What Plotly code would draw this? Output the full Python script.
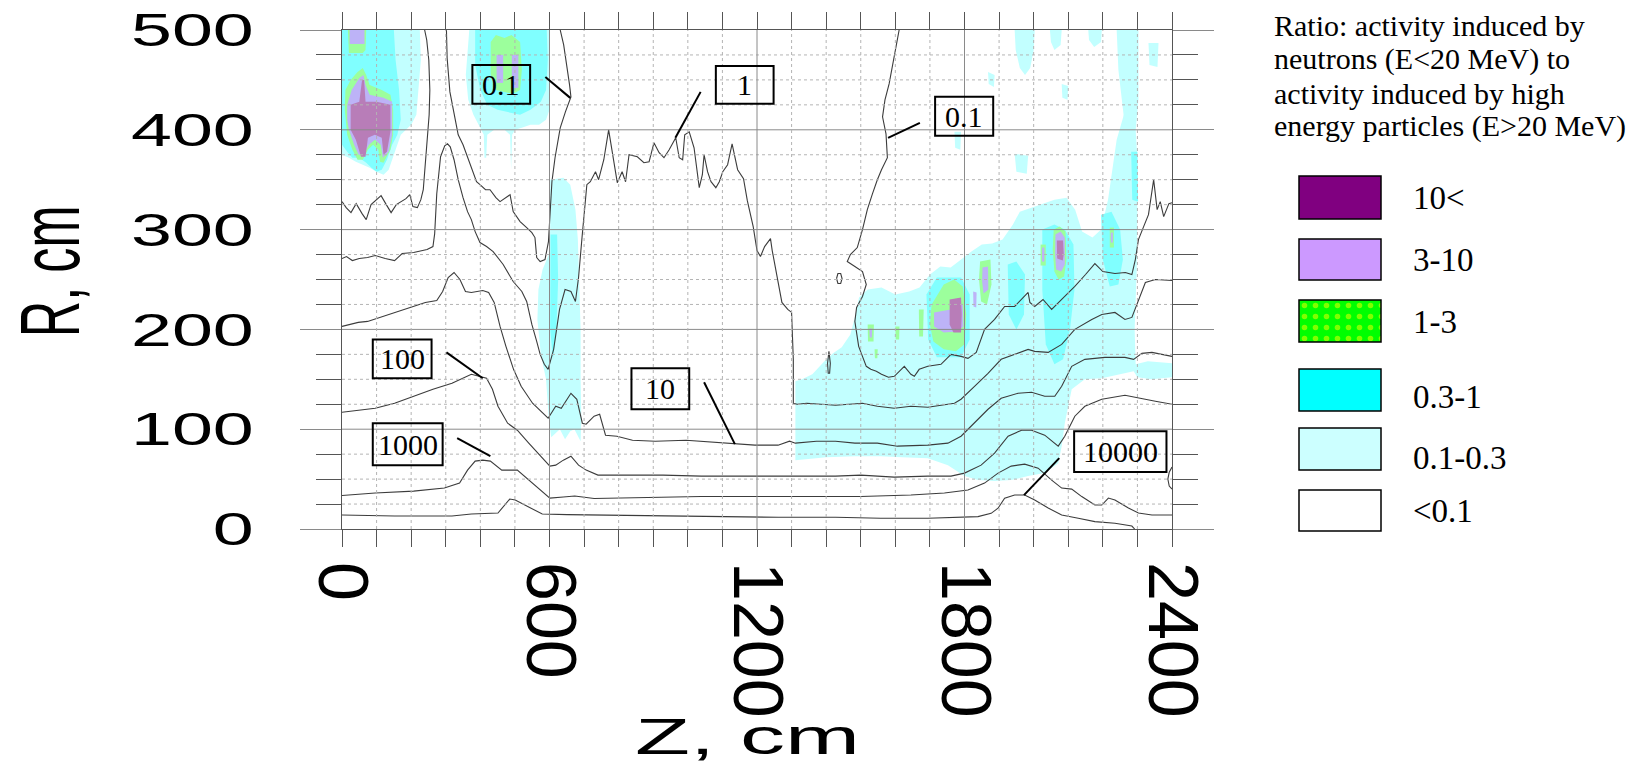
import plotly.graph_objects as go

W, H = 1630, 769
PL, PR, PT, PB = 342, 1172, 30, 529

# ---------------- data: contour lines (Z, R in cm) ----------------
c01_left_z = [0, 12, 26, 41, 58, 70, 84, 100, 113, 128, 142, 157, 171, 185, 196, 205, 218, 228, 235, 240, 246, 252, 254, 251, 245, 239]
c01_left_r = [328, 322, 317, 326, 316, 310, 325, 330, 334, 325, 317, 325, 328, 331, 335, 323, 322, 330, 340, 360, 385, 415, 440, 470, 490, 500]

c01_mid_z = [302, 304, 312, 326, 336, 350, 370, 389, 399, 415, 428, 445, 457, 476, 486, 495, 515, 534, 549, 558, 563, 573, 587, 597, 602, 607, 616, 631, 646, 662, 658, 650, 641, 631]
c01_mid_r = [500, 472, 438, 412, 395, 385, 365, 348, 345, 340, 340, 332, 328, 333, 335, 318, 308, 302, 297, 292, 272, 268, 270, 288, 318, 348, 372, 402, 418, 433, 445, 465, 485, 500]

c01_right_z = [1611, 1600, 1592, 1582, 1570, 1563, 1573, 1577, 1560, 1548, 1534, 1519, 1505, 1490, 1470, 1461, 1483, 1505, 1516, 1505, 1488, 1483, 1494, 1516, 1529, 1545, 1560, 1580, 1597, 1626, 1645, 1655, 1669, 1694, 1732, 1761, 1790, 1810, 1834, 1858, 1887, 1916, 1945, 1974, 1984, 1989, 2003, 2027, 2052, 2081, 2119, 2150, 2177, 2200, 2235, 2265, 2284, 2294, 2303, 2318, 2332, 2347, 2357, 2366, 2376, 2391, 2400]
c01_right_r = [500, 480, 463, 446, 430, 413, 396, 372, 360, 350, 336, 320, 300, 282, 275, 268, 263, 258, 245, 233, 222, 208, 183, 163, 160, 158, 155, 152, 153, 163, 155, 153, 160, 163, 165, 175, 173, 171, 177, 200, 210, 223, 223, 233, 237, 227, 223, 230, 220, 230, 243, 255, 266, 258, 256, 257, 255, 270, 290, 303, 315, 350, 320, 328, 313, 326, 327]

c1_z = [0, 13, 30, 50, 74, 96, 125, 152, 174, 207, 246, 263, 268, 274, 285, 297, 305, 313, 324, 336, 350, 363, 374, 385, 399, 418, 437, 466, 495, 520, 534, 549, 563, 573, 585, 596, 612, 629, 645, 662, 675, 684, 694, 708, 718, 733, 742, 757, 771, 781, 796, 810, 820, 830, 854, 873, 888, 902, 917, 931, 946, 965, 975, 985, 991, 1004, 1018, 1033, 1042, 1047, 1057, 1067, 1081, 1091, 1101, 1115, 1128, 1144, 1161, 1172, 1189, 1200, 1210, 1222, 1239, 1244, 1261, 1272, 1289, 1300, 1305, 1305, 1316, 1344, 1427, 1505, 1548, 1597, 1645, 1694, 1771, 1790, 1829, 1868, 1906, 1945, 1984, 2003, 2042, 2081, 2119, 2168, 2197, 2235, 2264, 2284, 2303, 2323, 2352, 2391, 2400]
c1_r = [271, 273, 269, 271, 272, 274, 271, 269, 276, 277, 280, 283, 296, 336, 373, 384, 386, 383, 370, 350, 332, 318, 310, 298, 287, 283, 278, 265, 248, 238, 228, 205, 188, 175, 165, 160, 180, 220, 240, 238, 228, 252, 292, 345, 348, 358, 350, 370, 400, 378, 347, 358, 348, 375, 373, 367, 368, 387, 377, 372, 380, 392, 372, 370, 395, 398, 382, 342, 355, 375, 358, 348, 342, 348, 358, 365, 386, 360, 351, 329, 303, 279, 273, 283, 291, 279, 249, 227, 220, 217, 170, 126, 125, 126, 124, 126, 123, 121, 123, 122, 126, 130, 143, 156, 170, 175, 180, 178, 177, 185, 200, 210, 215, 217, 210, 212, 230, 247, 250, 249, 249]

c10_z = [0, 24, 47, 74, 108, 152, 196, 241, 274, 291, 307, 324, 341, 357, 374, 407, 424, 440, 457, 474, 496, 518, 551, 596, 618, 634, 662, 679, 695, 706, 729, 745, 762, 795, 840, 906, 995, 1039, 1095, 1150, 1194, 1261, 1294, 1311, 1372, 1427, 1483, 1548, 1606, 1694, 1752, 1790, 1829, 1868, 1906, 1955, 1994, 2032, 2061, 2081, 2110, 2148, 2206, 2264, 2289, 2313, 2342, 2371, 2400]
c10_r = [203, 205, 207, 208, 212, 217, 222, 227, 229, 238, 252, 257, 250, 238, 237, 239, 237, 227, 203, 183, 160, 143, 126, 111, 123, 121, 136, 130, 106, 105, 113, 115, 94, 93, 89, 88, 89, 88, 86, 85, 84, 84, 88, 86, 88, 88, 86, 86, 83, 84, 86, 93, 106, 120, 131, 136, 137, 133, 133, 143, 163, 170, 172, 172, 170, 176, 177, 175, 173]

c100_z = [0, 41, 96, 152, 207, 263, 318, 374, 396, 418, 435, 451, 479, 507, 540, 573, 601, 618, 640, 662, 684, 706, 740, 817, 928, 1039, 1205, 1316, 1427, 1500, 1597, 1694, 1761, 1800, 1848, 1887, 1926, 1965, 1994, 2032, 2071, 2090, 2119, 2148, 2197, 2264, 2303, 2352, 2400]
c100_r = [117, 119, 121, 126, 133, 140, 146, 155, 153, 151, 140, 123, 106, 99, 86, 73, 63, 64, 69, 73, 64, 59, 54, 54, 54, 53, 53, 53, 53, 54, 52, 53, 53, 56, 64, 76, 93, 99, 99, 94, 83, 93, 113, 123, 130, 134, 131, 128, 125]

c1000_z = [0, 96, 207, 296, 340, 363, 385, 407, 429, 462, 507, 540, 573, 601, 640, 673, 729, 817, 928, 1039, 1205, 1372, 1500, 1645, 1742, 1810, 1858, 1897, 1935, 1974, 2013, 2052, 2081, 2110, 2139, 2177, 2197, 2216, 2235, 2274, 2303, 2342, 2400]
c1000_r = [33.5, 36, 38, 41, 46, 59, 68, 69, 68, 59, 59, 49, 39, 31, 32, 33, 30.5, 31, 32, 32.5, 32.5, 32.5, 32.5, 34, 36, 39, 46, 56, 63, 65, 61, 49, 41, 40, 32.5, 24, 24, 31, 29, 21, 16, 14, 14]

c10000_z = [0, 152, 318, 374, 451, 485, 501, 540, 579, 651, 817, 1039, 1261, 1427, 1558, 1694, 1839, 1877, 1897, 1916, 1945, 1974, 2003, 2042, 2081, 2129, 2177, 2235, 2284, 2292]
c10000_r = [14, 13, 13, 15, 16, 30, 29, 22.4, 15, 14.4, 13.7, 12.4, 11.7, 11.7, 10.7, 10.7, 12.4, 15.7, 20.8, 30.8, 34, 34, 29, 21, 14, 10.7, 7.4, 5.7, 3, 0]

loop_a_z = [1430, 1434, 1442, 1446, 1442, 1434, 1430]
loop_a_r = [251, 256, 256, 251, 246, 246, 251]
loop_b_z = [1404, 1408, 1412, 1410, 1406, 1404]
loop_b_r = [166, 178, 166, 156, 156, 166]
loop_c_z = [2400, 2392, 2388, 2392, 2400]
loop_c_r = [62, 57, 50, 43, 40]

# ---------------- data: ratio regions (Z, R polygons) ----------------
tl_lc_z = [0, 225, 228, 222, 215, 200, 185, 170, 150, 135, 120, 100, 80, 60, 40, 20, 0]
tl_lc_r = [500, 500, 470, 440, 415, 405, 400, 395, 375, 360, 355, 358, 362, 365, 368, 372, 375]
tl_cy_z = [0, 150, 155, 165, 170, 160, 145, 130, 115, 100, 85, 70, 50, 30, 15, 0]
tl_cy_r = [500, 500, 470, 440, 410, 395, 385, 370, 360, 358, 362, 367, 372, 372, 378, 385]
tl_gr1_z = [17, 70, 68, 60, 20]
tl_gr1_r = [500, 500, 480, 477, 477]
tl_gr2_z = [10, 25, 45, 60, 70, 80, 115, 140, 148, 148, 140, 120, 110, 105, 90, 75, 60, 45, 30, 15, 8]
tl_gr2_r = [440, 450, 458, 462, 455, 445, 440, 435, 420, 395, 380, 367, 368, 380, 385, 380, 370, 370, 380, 395, 420]
tl_lv1_z = [22, 65, 65, 22]
tl_lv1_r = [500, 500, 486, 486]
tl_lv2_z = [15, 28, 50, 62, 68, 80, 120, 145, 145, 135, 118, 112, 95, 78, 62, 48, 35, 20, 15]
tl_lv2_r = [425, 440, 452, 455, 445, 435, 432, 428, 395, 378, 372, 385, 390, 385, 375, 375, 385, 400, 410]
tl_pu_z = [25, 50, 58, 64, 68, 100, 140, 140, 130, 120, 115, 95, 75, 68, 55, 40, 25]
tl_pu_r = [425, 428, 450, 450, 428, 428, 425, 398, 378, 375, 392, 395, 392, 373, 373, 390, 400]

tm_lc_z = [368, 600, 600, 590, 570, 545, 520, 500, 492, 489, 486, 470, 440, 420, 417, 412, 410, 395, 380, 365, 358]
tm_lc_r = [500, 500, 420, 410, 405, 405, 402, 400, 395, 360, 395, 400, 400, 395, 372, 372, 395, 405, 415, 430, 455]
tm_cy_z = [385, 592, 595, 590, 575, 545, 515, 480, 450, 420, 400, 385]
tm_cy_r = [500, 500, 470, 440, 428, 420, 415, 418, 420, 425, 440, 465]
tm_gr_z = [430, 445, 470, 490, 515, 520, 515, 495, 470, 445, 430]
tm_gr_r = [488, 495, 492, 495, 488, 460, 440, 436, 438, 440, 455]
tm_lv1_z = [447, 466, 466, 447]
tm_lv1_r = [475, 475, 447, 447]
tm_lv2_z = [491, 510, 510, 491]
tm_lv2_r = [475, 475, 442, 442]

vs_lc_z = [602, 640, 660, 675, 682, 686, 690, 690, 692, 690, 680, 672, 660, 645, 630, 615, 605, 598, 590, 575, 565, 568, 580, 598, 602]
vs_lc_r = [350, 352, 345, 320, 290, 250, 200, 150, 110, 88, 95, 100, 98, 90, 100, 95, 92, 110, 150, 175, 210, 240, 260, 275, 300]
vs_cy_z = [603, 622, 625, 620, 610, 602]
vs_cy_r = [295, 295, 250, 200, 170, 200]

rb_lc_z = [1311, 1400, 1483, 1558, 1620, 1694, 1752, 1800, 1839, 1887, 1935, 1984, 2032, 2071, 2081, 2090, 2110, 2148, 2197, 2255, 2289, 2300, 2340, 2400, 2400, 2330, 2295, 2292, 2298, 2300, 2290, 2265, 2240, 2215, 2195, 2170, 2140, 2120, 2095, 2060, 2020, 1990, 1960, 1940, 1910, 1880, 1850, 1820, 1790, 1760, 1730, 1700, 1670, 1640, 1600, 1560, 1520, 1495, 1485, 1470, 1445, 1420, 1395, 1360, 1330, 1311]
rb_lc_r = [69, 72, 73, 73, 72, 71, 64, 53, 49, 48, 49, 53, 56, 66, 83, 106, 140, 150, 151, 155, 158, 152, 150, 152, 166, 168, 165, 200, 260, 320, 390, 420, 390, 330, 300, 292, 298, 320, 332, 330, 325, 322, 318, 305, 290, 286, 285, 278, 270, 262, 263, 255, 242, 238, 235, 242, 240, 232, 215, 195, 182, 176, 168, 155, 150, 148]
rc_lc_z = [2240, 2303, 2303, 2295, 2300, 2290, 2270, 2265, 2255, 2245]
rc_lc_r = [500, 500, 430, 400, 370, 340, 360, 400, 430, 460]
sp_lc1_z = [1945, 2003, 2000, 1990, 1975, 1960, 1948]
sp_lc1_r = [500, 500, 480, 462, 455, 462, 480]
sp_lc2_z = [2047, 2081, 2078, 2060, 2050]
sp_lc2_r = [500, 500, 485, 480, 488]
sp_lc3_z = [2158, 2197, 2195, 2175, 2160]
sp_lc3_r = [500, 500, 488, 483, 490]
sp_lc4_z = [1868, 1887, 1885, 1870]
sp_lc4_r = [458, 455, 443, 446]
sp_lc5_z = [1771, 1790, 1788, 1773]
sp_lc5_r = [398, 398, 380, 382]
sp_lc6_z = [2081, 2100, 2098, 2083]
sp_lc6_r = [446, 444, 430, 432]
sp_lc7_z = [2332, 2361, 2358, 2335]
sp_lc7_r = [487, 487, 463, 465]
sp_lc8_z = [1945, 1984, 1980, 1950]
sp_lc8_r = [376, 374, 356, 358]

rb_cy1_z = [2025, 2060, 2090, 2115, 2118, 2105, 2085, 2060, 2035, 2025]
rb_cy1_r = [300, 305, 300, 285, 240, 200, 170, 165, 185, 240]
rb_cy2_z = [2195, 2225, 2250, 2258, 2245, 2220, 2200]
rb_cy2_r = [315, 318, 300, 270, 245, 243, 270]
rb_cy3_z = [2282, 2300, 2302, 2285]
rb_cy3_r = [378, 378, 328, 330]
rb_cy4_z = [1925, 1950, 1975, 1972, 1950, 1928]
rb_cy4_r = [265, 268, 255, 215, 200, 215]
rb_cy5_z = [1690, 1720, 1790, 1815, 1815, 1790, 1720, 1695]
rb_cy5_r = [235, 252, 252, 235, 190, 172, 172, 190]

sp1_gr_z = [1705, 1740, 1770, 1795, 1805, 1800, 1775, 1740, 1710, 1700]
sp1_gr_r = [225, 245, 250, 243, 215, 185, 178, 180, 188, 205]
sp1_lv_z = [1712, 1760, 1795, 1797, 1780, 1740, 1712]
sp1_lv_r = [217, 220, 225, 203, 198, 197, 203]
sp1_pu_z = [1757, 1790, 1792, 1790, 1768, 1757]
sp1_pu_r = [230, 232, 215, 197, 197, 205]
sp2_gr_z = [1845, 1875, 1878, 1865, 1848, 1842]
sp2_gr_r = [268, 270, 245, 225, 228, 250]
sp2_lv_z = [1852, 1868, 1869, 1855, 1851]
sp2_lv_r = [262, 263, 240, 236, 248]
sp3_lv_z = [1825, 1835, 1834, 1826]
sp3_lv_r = [238, 237, 222, 223]
sp4_gr_z = [1668, 1682, 1680, 1669]
sp4_gr_r = [220, 220, 193, 193]
sp5_gr_z = [1600, 1612, 1611, 1601]
sp5_gr_r = [203, 203, 190, 190]
sp6_gr_z = [1520, 1538, 1537, 1521]
sp6_gr_r = [205, 205, 188, 188]
sp6_lv_z = [1525, 1533, 1532, 1526]
sp6_lv_r = [201, 201, 192, 192]
sp7_gr_z = [1540, 1549, 1548, 1541]
sp7_gr_r = [180, 180, 171, 171]
sp8_gr_z = [2058, 2075, 2092, 2095, 2088, 2072, 2060, 2055]
sp8_gr_r = [300, 303, 298, 270, 253, 250, 258, 280]
sp8_lv_z = [2063, 2078, 2090, 2090, 2080, 2065, 2062]
sp8_lv_r = [295, 298, 292, 265, 258, 260, 275]
sp8_pu_z = [2067, 2085, 2087, 2084, 2068]
sp8_pu_r = [289, 289, 275, 269, 271]
sp9_gr_z = [2020, 2035, 2035, 2020]
sp9_gr_r = [285, 285, 264, 264]
sp9_lv_z = [2024, 2031, 2031, 2024]
sp9_lv_r = [282, 282, 268, 268]
sp10_gr_z = [2220, 2232, 2232, 2220]
sp10_gr_r = [302, 302, 282, 282]
sp10_lv_z = [2223, 2229, 2229, 2223]
sp10_lv_r = [297, 297, 287, 287]

# ---------------- data: contour labels ----------------
lab_text = ['0.1', '1', '0.1', '100', '1000', '10', '10000']
lab_z0 = [377, 1081, 1715, 89, 89, 837, 2117]
lab_z1 = [544, 1248, 1883, 259, 291, 1004, 2384]
lab_r0 = [426, 426, 394, 151, 64, 120, 57]
lab_r1 = [465, 464, 433, 190, 106, 161, 98]
lead_z0 = [588, 1037, 1671, 302, 333, 1047, 2074]
lead_r0 = [453, 438, 407, 177, 91, 147, 71]
lead_z1 = [660, 964, 1579, 407, 429, 1136, 1972]
lead_r1 = [432, 392, 392, 151, 73, 85, 34]

# ---------------- axes ----------------
z_ticks = [0, 600, 1200, 1800, 2400]
r_ticks = [0, 100, 200, 300, 400, 500]

# ---------------- legend ----------------
legend_title = ['Ratio: activity induced by', 'neutrons (E&lt;20 MeV) to',
                'activity induced by high', 'energy particles (E&gt;20 MeV)']
legend_labels = ['10&lt;', '3-10', '1-3', '0.3-1', '0.1-0.3', '&lt;0.1']
legend_colors = ['#800080', '#CC99FF', '#00FF00', '#00FFFF', '#CCFFFF', '#FFFFFF']

# ---------------- styles ----------------
LC = '#C2FFFF'
CY = '#80FFFF'
GR = '#9CFF9C'
LV = '#BDB3F7'
PU = '#B87DB8'
LINE = '#3c3c3c'

fig = go.Figure()


def add_fill(z, r, color):
    fig.add_trace(go.Scatter(x=z, y=r, mode='lines', fill='toself', fillcolor=color,
                             line=dict(width=0), hoverinfo='skip', showlegend=False))


def add_line(z, r):
    fig.add_trace(go.Scatter(x=z, y=r, mode='lines', line=dict(color=LINE, width=1.1),
                             hoverinfo='skip', showlegend=False))


for z, r in [(tl_lc_z, tl_lc_r), (tm_lc_z, tm_lc_r), (vs_lc_z, vs_lc_r), (rb_lc_z, rb_lc_r),
             (rc_lc_z, rc_lc_r), (sp_lc1_z, sp_lc1_r), (sp_lc2_z, sp_lc2_r), (sp_lc3_z, sp_lc3_r),
             (sp_lc4_z, sp_lc4_r), (sp_lc5_z, sp_lc5_r), (sp_lc6_z, sp_lc6_r), (sp_lc7_z, sp_lc7_r),
             (sp_lc8_z, sp_lc8_r)]:
    add_fill(z, r, LC)
for z, r in [(tl_cy_z, tl_cy_r), (tm_cy_z, tm_cy_r), (vs_cy_z, vs_cy_r), (rb_cy1_z, rb_cy1_r),
             (rb_cy2_z, rb_cy2_r), (rb_cy3_z, rb_cy3_r), (rb_cy4_z, rb_cy4_r), (rb_cy5_z, rb_cy5_r)]:
    add_fill(z, r, CY)
for z, r in [(tl_gr1_z, tl_gr1_r), (tl_gr2_z, tl_gr2_r), (tm_gr_z, tm_gr_r), (sp1_gr_z, sp1_gr_r),
             (sp2_gr_z, sp2_gr_r), (sp4_gr_z, sp4_gr_r), (sp5_gr_z, sp5_gr_r), (sp6_gr_z, sp6_gr_r),
             (sp7_gr_z, sp7_gr_r), (sp8_gr_z, sp8_gr_r), (sp9_gr_z, sp9_gr_r), (sp10_gr_z, sp10_gr_r)]:
    add_fill(z, r, GR)
for z, r in [(tl_lv1_z, tl_lv1_r), (tl_lv2_z, tl_lv2_r), (tm_lv1_z, tm_lv1_r), (tm_lv2_z, tm_lv2_r),
             (sp1_lv_z, sp1_lv_r), (sp2_lv_z, sp2_lv_r), (sp3_lv_z, sp3_lv_r), (sp6_lv_z, sp6_lv_r),
             (sp8_lv_z, sp8_lv_r), (sp9_lv_z, sp9_lv_r), (sp10_lv_z, sp10_lv_r)]:
    add_fill(z, r, LV)
for z, r in [(tl_pu_z, tl_pu_r), (sp1_pu_z, sp1_pu_r), (sp8_pu_z, sp8_pu_r)]:
    add_fill(z, r, PU)

for z, r in [(c01_left_z, c01_left_r), (c01_mid_z, c01_mid_r), (c01_right_z, c01_right_r),
             (c1_z, c1_r), (c10_z, c10_r), (c100_z, c100_r), (c1000_z, c1000_r),
             (c10000_z, c10000_r), (loop_a_z, loop_a_r), (loop_b_z, loop_b_r), (loop_c_z, loop_c_r)]:
    add_line(z, r)

fig.add_trace(go.Scatter(x=[0, 1, 1, 0, 0], y=[0, 0, 1, 1, 0], mode='lines', fill='toself',
                         fillcolor='#00FF00', line=dict(width=0),
                         fillpattern=dict(shape='.', fgcolor='#FFFF00', bgcolor='#00FF00',
                                          size=11, solidity=0.2),
                         xaxis='x2', yaxis='y2', hoverinfo='skip', showlegend=False))

shapes = []
for rv in range(25, 500, 25):
    major = rv % 100 == 0
    shapes.append(dict(type='line', xref='x', yref='y', x0=0, x1=2400, y0=rv, y1=rv, layer='above',
                       line=dict(color='#8a8a8a' if major else '#b4b4b4', width=1,
                                 dash='solid' if major else 'dot')))
for zv in range(100, 2400, 100):
    major = zv % 600 == 0
    shapes.append(dict(type='line', xref='x', yref='y', x0=zv, x1=zv, y0=0, y1=500, layer='above',
                       line=dict(color='#8a8a8a' if major else '#b4b4b4', width=1,
                                 dash='solid' if major else 'dot')))
for i in range(len(lab_text)):
    shapes.append(dict(type='rect', xref='x', yref='y', x0=lab_z0[i], x1=lab_z1[i], y0=lab_r0[i], y1=lab_r1[i],
                       layer='above', line=dict(color='black', width=2), fillcolor='rgba(0,0,0,0)'))
    shapes.append(dict(type='line', xref='x', yref='y', x0=lead_z0[i], x1=lead_z1[i], y0=lead_r0[i], y1=lead_r1[i],
                       layer='above', line=dict(color='black', width=2)))

annotations = []
for i in range(len(lab_text)):
    annotations.append(dict(x=(lab_z0[i] + lab_z1[i]) / 2, y=(lab_r0[i] + lab_r1[i]) / 2, xref='x', yref='y',
                            text=lab_text[i], showarrow=False,
                            font=dict(family='Liberation Serif', size=30, color='black')))


def px(x):
    return x / W


def py(y):
    return 1 - y / H


box_top = [176, 239, 300, 369, 428, 490]
box_bot = [219, 280, 342, 411, 470, 531]
lab_y = [198, 260, 322, 397, 458, 511]
for i, col in enumerate(legend_colors):
    shapes.append(dict(type='rect', xref='paper', yref='paper', x0=px(1299), x1=px(1381),
                       y0=py(box_bot[i]), y1=py(box_top[i]), line=dict(color='black', width=1.5),
                       fillcolor=col if i != 2 else 'rgba(0,0,0,0)', layer='above'))
    annotations.append(dict(x=px(1411), y=py(lab_y[i]), xref='paper', yref='paper', xanchor='left',
                            yanchor='middle', text=legend_labels[i], showarrow=False,
                            font=dict(family='Liberation Serif', size=33, color='black')))
title_y = [26, 59, 93, 126]
for t, yy in zip(legend_title, title_y):
    annotations.append(dict(x=px(1272), y=py(yy), xref='paper', yref='paper', xanchor='left',
                            yanchor='middle', text=t, showarrow=False,
                            font=dict(family='Liberation Serif', size=30, color='black')))

annotations.append(dict(x=px(50), y=py(272), xref='paper', yref='paper', text='R, cm', textangle=-90,
                        showarrow=False, xanchor='center', yanchor='middle',
                        font=dict(family='Liberation Sans', size=84, color='black')))
annotations.append(dict(x=px(747), y=py(737), xref='paper', yref='paper', text='Z, cm',
                        showarrow=False, xanchor='center', yanchor='middle',
                        font=dict(family='Liberation Sans', size=90, color='black')))

fig.update_layout(
    width=W, height=H, margin=dict(l=0, r=0, t=0, b=0, autoexpand=False),
    paper_bgcolor='white', plot_bgcolor='white', showlegend=False,
    xaxis=dict(domain=[PL / W, PR / W], range=[0, 2400], tickvals=z_ticks, ticktext=[str(v) for v in z_ticks],
               tickangle=90, ticks='outside', ticklen=0, showgrid=False, zeroline=False, automargin=False,
               showline=True, linecolor='#555555', linewidth=1, mirror='ticks',
               tickfont=dict(family='Liberation Sans', size=70, color='black'), ticklabelstandoff=18,
               minor=dict(dtick=100, tick0=0, ticks='outside', ticklen=17, tickcolor='#555555', tickwidth=1,
                          showgrid=False)),
    yaxis=dict(domain=[1 - PB / H, 1 - PT / H], range=[0, 500], tickvals=r_ticks, automargin=False,
               ticks='outside', ticklen=41, tickcolor='#8a8a8a', tickwidth=1, showgrid=False, zeroline=False,
               showline=True, linecolor='#555555', linewidth=1, mirror='ticks',
               tickfont=dict(family='Liberation Sans', size=46, color='black'), ticklabelstandoff=37,
               minor=dict(dtick=25, tick0=0, ticks='outside', ticklen=25, tickcolor='#555555', tickwidth=1,
                          showgrid=False)),
    xaxis2=dict(domain=[px(1299), px(1381)], range=[0, 1], visible=False, anchor='y2', fixedrange=True,
                automargin=False),
    yaxis2=dict(domain=[py(box_bot[2]), py(box_top[2])], range=[0, 1], visible=False, anchor='x2',
                fixedrange=True, automargin=False),
    shapes=shapes, annotations=annotations,
)

post = """
var gd = document.getElementById('{plot_id}');
function sq(el, sx, sy, mode) {
  var b = el.getBBox();
  var cx = (mode === 'right') ? (b.x + b.width) : (b.x + b.width / 2);
  var cy = b.y + b.height / 2;
  var t = el.getAttribute('transform') || '';
  el.setAttribute('transform', t + ' translate(' + cx + ',' + cy + ') scale(' + sx + ',' + sy + ') translate(' + (-cx) + ',' + (-cy) + ')');
}
gd.querySelectorAll('g.ytick text').forEach(function (el) { sq(el, 1.6, 1, 'right'); });
gd.querySelectorAll('text.annotation-text').forEach(function (el) {
  var s = el.textContent;
  if (s === 'R, cm') { sq(el, 0.6, 1, 'c'); }
  if (s === 'Z, cm') { sq(el, 1, 0.55, 'c'); }
});
"""

fig.write_html("out.html", post_script=post)
